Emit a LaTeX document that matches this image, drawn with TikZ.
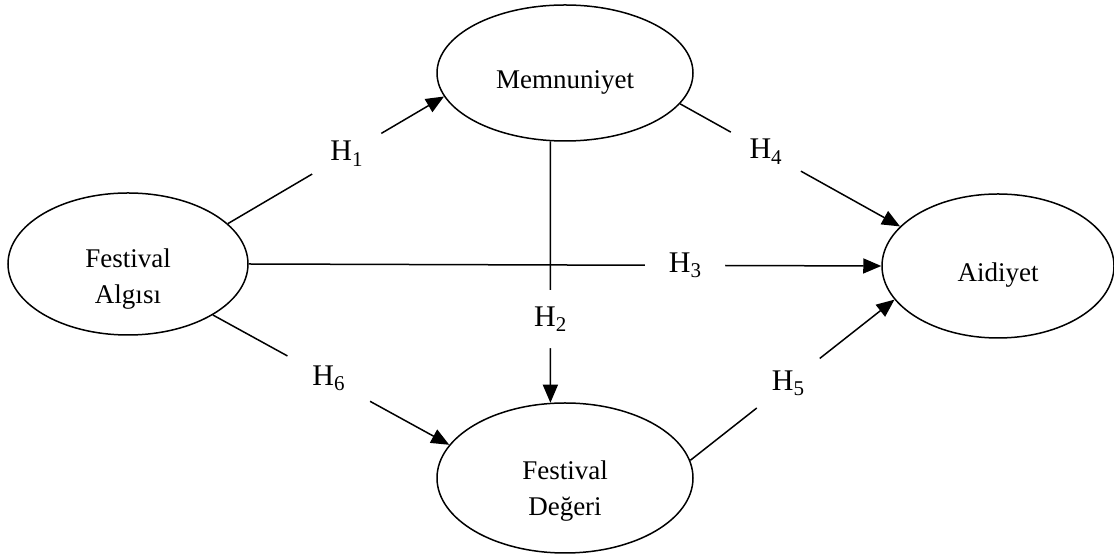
\documentclass[tikz,border=0pt]{standalone}
\usepackage{fontspec}
\setmainfont{Liberation Serif}
\usetikzlibrary{arrows.meta,shapes}

\begin{document}
\begin{tikzpicture}[x=1pt,y=1pt,->,>={Triangle[length=18pt,width=15pt]},
		line width=1.5pt,
		factor/.style={draw,ellipse,inner sep=0pt,align=center,
			font=\fontsize{27}{36}\selectfont},
		hyp/.style={circle,fill=white,minimum size=80pt,inner sep=0pt,
			font=\fontsize{30}{36}\selectfont}]

		\useasboundingbox (0,0) rectangle (1114,556);

		\node[factor,minimum width=240pt,minimum height=142pt,text height=84pt] (fa) at (128,292) {Festival\\Algısı};
		\node[factor,minimum width=256pt,minimum height=136pt,text height=37pt] (mem) at (565,483) {Memnuniyet};
		\node[factor,minimum width=232pt,minimum height=144pt,text height=37pt] (aid) at (998,290) {Aidiyet};
		\node[factor,minimum width=256pt,minimum height=150pt,text height=80pt] (dg) at (565,78) {Festival\\Değeri};

		\path
		(fa.22) edge node[hyp,pos=0.55] {H\textsubscript{1}} (mem.191)
		(mem.258) edge node[hyp,pos=0.68,minimum size=58pt] {H\textsubscript{2}} (dg.101)
		(fa.east) edge node[hyp,pos=0.69] {H\textsubscript{3}} (aid.west)
		(mem.-15) edge node[hyp,pos=0.39] {H\textsubscript{4}} (aid.158)
		(dg.8) edge node[hyp,pos=0.48] {H\textsubscript{5}} (aid.198)
		(fa.-31) edge node[hyp,pos=0.49,minimum size=94pt] {H\textsubscript{6}} (dg.164);
	\end{tikzpicture}
\end{document}
